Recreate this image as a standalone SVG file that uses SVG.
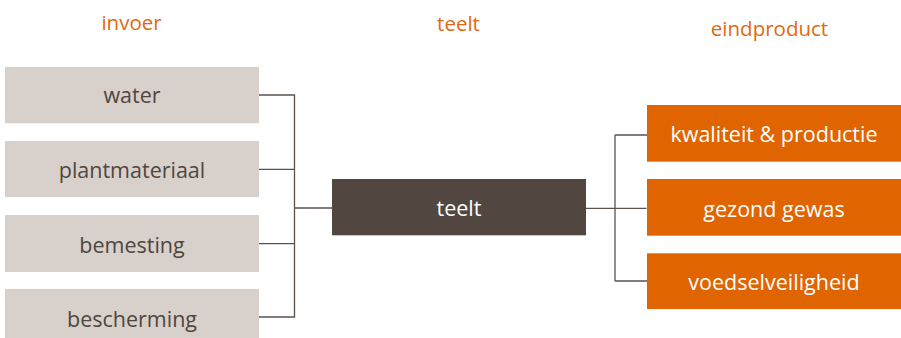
<svg xmlns="http://www.w3.org/2000/svg" width="901" height="338" viewBox="0 0 901 338">
<style>
text{font-family:"Open Sans","Noto Sans","Liberation Sans",sans-serif;font-size:21.5px;text-anchor:middle}
.hdr{fill:#e0690f;font-size:20.5px}
.in rect{fill:#d8d0ca}
.in text{fill:#4f4640}
.mid rect{fill:#524740}
.mid text{fill:#ffffff}
.out rect{fill:#e06400}
.out text{fill:#ffffff}
.conn path{fill:none;stroke:#5c524c;stroke-width:1.3}
</style>
<rect width="901" height="338" fill="#ffffff"/>
<g id="headers">
<text class="hdr" x="131.5" y="30">invoer</text>
<text class="hdr" x="458.5" y="30.5">teelt</text>
<text class="hdr" x="769.5" y="35.5">eindproduct</text>
</g>
<g class="conn" id="connectors">
<path d="M259 95H294.5V317H259M259 169.3H294.5M259 243.7H294.5M294.5 208H332"/>
<path d="M586 208.3H646.5M615 135V281M615 135H647M615 281H647"/>
</g>
<g class="in" id="water"><rect x="5" y="67" width="254" height="56.3"/><text x="132" y="103.3">water</text></g>
<g class="in" id="plantmateriaal"><rect x="5" y="141" width="254" height="56"/><text x="132" y="178.3">plantmateriaal</text></g>
<g class="in" id="bemesting"><rect x="5" y="215" width="254" height="57"/><text x="132" y="252.7">bemesting</text></g>
<g class="in" id="bescherming"><rect x="5" y="289" width="254" height="49"/><text x="132" y="326.7">bescherming</text></g>
<g class="mid" id="teelt"><rect x="332" y="179" width="254" height="56.3"/><text x="459" y="215.7">teelt</text></g>
<g class="out" id="kwaliteit"><rect x="647" y="105" width="254" height="56.7"/><text x="774" y="141.7">kwaliteit &amp; productie</text></g>
<g class="out" id="gezond"><rect x="647" y="179" width="254" height="56.7"/><text x="774" y="216.5">gezond gewas</text></g>
<g class="out" id="voedsel"><rect x="647" y="253.3" width="254" height="55.7"/><text x="774" y="290">voedselveiligheid</text></g>
</svg>
